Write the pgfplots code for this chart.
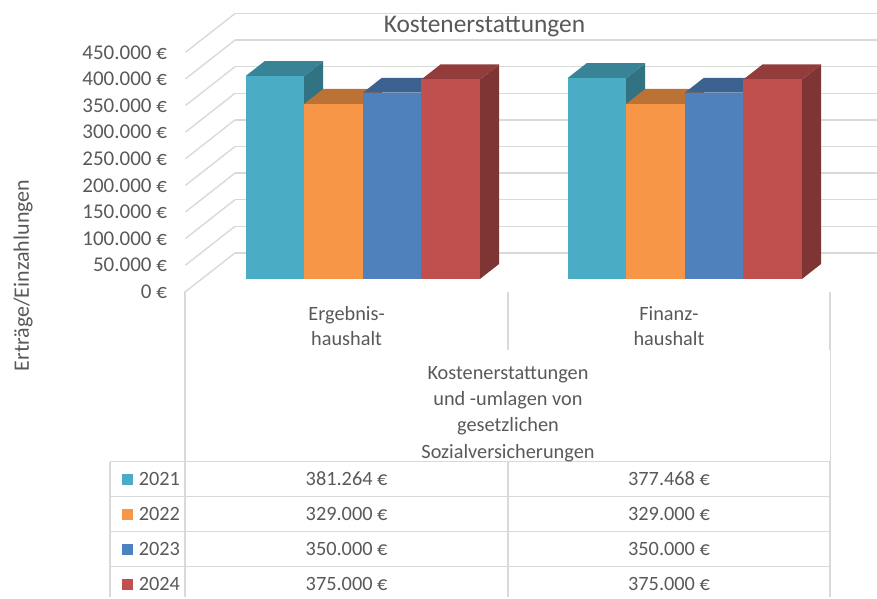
\documentclass[border=0pt]{standalone}
\usepackage{pgfplots}
\pgfplotsset{compat=1.18}
\usepackage{pgfplotstable}
\usepackage{fontspec}
\setmainfont{Carlito}
\definecolor{cA}{HTML}{4BACC6}
\definecolor{cB}{HTML}{F79646}
\definecolor{cC}{HTML}{4F81BD}
\definecolor{cD}{HTML}{C0504D}
\colorlet{cAtop}{cA!76!black}\colorlet{cAside}{cA!66!black}
\colorlet{cBtop}{cB!76!black}\colorlet{cBside}{cB!66!black}
\colorlet{cCtop}{cC!76!black}\colorlet{cCside}{cC!66!black}
\colorlet{cDtop}{cD!76!black}\colorlet{cDside}{cD!66!black}
\definecolor{gridc}{HTML}{D9D9D9}
\definecolor{txt}{HTML}{595959}

% 3D bar drawn at the top-front-centre of each data point
\newcommand\defbar[4]{%
\pgfdeclareplotmark{#1}{%
  \begingroup
  \pgfkeys{/pgf/fpu=true,/pgf/fpu/output format=fixed}%
  \pgfmathparse{\hval*0.532}%
  \xdef\hh{\pgfmathresult}%
  \endgroup
  \pgfpathmoveto{\pgfqpoint{29.3pt}{0pt}}%
  \pgfpathlineto{\pgfqpoint{48.3pt}{14.9pt}}%
  \pgfpathlineto{\pgfpoint{48.3pt}{14.9pt-\hh pt}}%
  \pgfpathlineto{\pgfpoint{29.3pt}{-\hh pt}}%
  \pgfpathclose
  \pgfsetfillcolor{#4}\pgfusepath{fill}%
  \pgfpathmoveto{\pgfqpoint{-29.3pt}{0pt}}%
  \pgfpathlineto{\pgfqpoint{29.3pt}{0pt}}%
  \pgfpathlineto{\pgfqpoint{48.3pt}{14.9pt}}%
  \pgfpathlineto{\pgfqpoint{-10.3pt}{14.9pt}}%
  \pgfpathclose
  \pgfsetfillcolor{#3}\pgfusepath{fill}%
  \pgfpathrectangle{\pgfqpoint{-29.3pt}{0pt}}{\pgfpoint{58.6pt}{-\hh pt}}%
  \pgfsetfillcolor{#2}\pgfusepath{fill}%
}}
\defbar{barA}{cA}{cAtop}{cAside}
\defbar{barB}{cB}{cBtop}{cBside}
\defbar{barC}{cC}{cCtop}{cCside}
\defbar{barD}{cD}{cDtop}{cDside}

% values in thousand euro
\pgfplotstableread{
cat y2021 y2022 y2023 y2024
0 381.264 329 350 375
1 377.468 329 350 375
}\data

\begin{document}
\begin{tikzpicture}
\begin{axis}[
  x={(322pt,0pt)}, y={(49.5pt,38.8pt)}, z={(0pt,0.532pt)},
  xmin=-0.5, xmax=1.5, ymin=0, ymax=1, zmin=0, zmax=450,
  xtick=\empty, ytick=\empty,
  ztick={0,50,100,150,200,250,300,350,400,450},
  zticklabels={0 €,50.000 €,100.000 €,150.000 €,200.000 €,250.000 €,300.000 €,350.000 €,400.000 €,450.000 €},
  zmajorgrids,
  major grid style={draw=gridc, line width=1.4pt},
  axis line style={draw=none},
  major tick length=0pt,
  tick label style={font=\fontsize{21}{25}\selectfont, text=txt},
  zticklabel style={anchor=east, xshift=-15pt},
  clip=false,
  visualization depends on={rawz \as \hval},
]
\addplot3[scatter, only marks, mark=barA]
  table[x expr=\thisrow{cat}-0.273, y expr=0.33, z=y2021] {\data};
\addplot3[scatter, only marks, mark=barB]
  table[x expr=\thisrow{cat}-0.091, y expr=0.33, z=y2022] {\data};
\addplot3[scatter, only marks, mark=barC]
  table[x expr=\thisrow{cat}+0.091, y expr=0.33, z=y2023] {\data};
\addplot3[scatter, only marks, mark=barD]
  table[x expr=\thisrow{cat}+0.273, y expr=0.33, z=y2024] {\data};
\coordinate (O) at (axis cs:0,0,0);
\end{axis}
\begin{scope}[shift={(O)}, shift={(-346.5pt,291.7pt)}, x=1pt, y=-1pt]
\pgfresetboundingbox
\path (0,0) rectangle (877,597);
\node[anchor=base, text=txt, font=\fontsize{25.4}{30}\selectfont] at (484.5,32.3) {Kostenerstattungen};
\node[anchor=base, rotate=90, text=txt, font=\fontsize{22}{26}\selectfont] at (29,275.5) {Erträge/Einzahlungen};
% axis / table lines
\begin{scope}[draw=gridc]
\draw[line width=2pt] (185.3,291) -- (185.3,597);
\draw[line width=2pt] (508,291.7) -- (508,350);
\draw[line width=2pt] (830,291.7) -- (830,350);
\draw[line width=1pt] (830,350) -- (830,461.7);
\draw[line width=2pt] (508,461.7) -- (508,597);
\draw[line width=2pt] (830,461.7) -- (830,597);
\draw[line width=1.5pt] (110,461.7) -- (110,597);
\foreach \yy in {461.7,496.7,531.7,566.7} \draw[line width=1.5pt] (110,\yy) -- (830,\yy);
\end{scope}
\begin{scope}[every node/.style={text=txt, font=\fontsize{20.3}{24}\selectfont, anchor=base}]
\node at (346.6,320) {Ergebnis-};
\node at (346.6,345) {haushalt};
\node at (669,320) {Finanz-};
\node at (669,345) {haushalt};
\node at (508,379.3) {Kostenerstattungen};
\node at (508,405.6) {und -umlagen von};
\node at (508,431.9) {gesetzlichen};
\node at (508,458.2) {Sozialversicherungen};
\node[anchor=base west] at (118.3,485) {\textcolor{cA}{\rule{11.5pt}{11.5pt}}\hspace{5.5pt}2021};
\node[anchor=base west] at (118.3,520) {\textcolor{cB}{\rule{11.5pt}{11.5pt}}\hspace{5.5pt}2022};
\node[anchor=base west] at (118.3,555) {\textcolor{cC}{\rule{11.5pt}{11.5pt}}\hspace{5.5pt}2023};
\node[anchor=base west] at (118.3,590) {\textcolor{cD}{\rule{11.5pt}{11.5pt}}\hspace{5.5pt}2024};
\node at (346.6,485) {381.264 €};
\node at (669,485) {377.468 €};
\node at (346.6,520) {329.000 €};
\node at (669,520) {329.000 €};
\node at (346.6,555) {350.000 €};
\node at (669,555) {350.000 €};
\node at (346.6,590) {375.000 €};
\node at (669,590) {375.000 €};
\end{scope}
\end{scope}
\end{tikzpicture}
\end{document}
